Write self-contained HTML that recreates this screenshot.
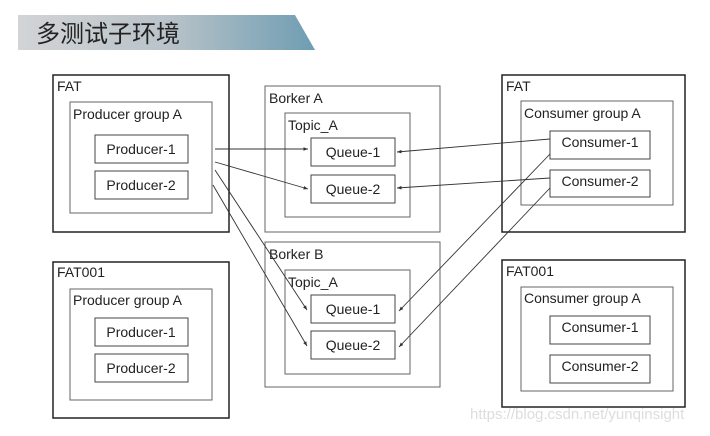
<!DOCTYPE html>
<html><head><meta charset="utf-8"><style>
body{margin:0;background:#fff;width:710px;height:431px;overflow:hidden;font-family:"Liberation Sans",sans-serif;}
</style></head><body>
<svg width="710" height="431" viewBox="0 0 710 431" xmlns="http://www.w3.org/2000/svg" font-family="Liberation Sans, sans-serif">
<defs>
<linearGradient id="g" x1="0" x2="1" y1="0" y2="0">
<stop offset="0" stop-color="#d2d4d6"/><stop offset="0.5" stop-color="#b9c3c9"/><stop offset="1" stop-color="#6f9db2"/>
</linearGradient>
<marker id="a" markerWidth="6" markerHeight="6" refX="5" refY="3" orient="auto"><path d="M0,1 L5,3 L0,5 z" fill="#333"/></marker>
</defs>
<polygon points="18,15 295,15 315,50 18,50" fill="url(#g)"/>
<text x="36" y="42" font-size="24" font-family="Noto Sans CJK SC, sans-serif" fill="#222">多测试子环境</text>
<g fill="none" stroke="#222">
<rect x="53" y="75" width="176" height="157" stroke-width="1.5"/>
<rect x="53" y="262" width="176" height="156" stroke-width="1.5"/>
<rect x="502" y="75" width="183" height="157" stroke-width="1.5"/>
<rect x="502" y="260" width="183" height="147" stroke-width="1.5"/>
</g>
<g fill="none" stroke="#666">
<rect x="70" y="102" width="142" height="111"/>
<rect x="70" y="289" width="142" height="111"/>
<rect x="521" y="101" width="152" height="104"/>
<rect x="521" y="287" width="152" height="104"/>
<rect x="265" y="86" width="175" height="146"/>
<rect x="285" y="113" width="125" height="104"/>
<rect x="265" y="242" width="175" height="145"/>
<rect x="285" y="270" width="125" height="104"/>
</g>
<g fill="none" stroke="#444">
<rect x="95" y="135" width="93" height="28"/><rect x="95" y="171" width="93" height="28"/>
<rect x="95" y="318" width="93" height="28"/><rect x="95" y="354" width="93" height="28"/>
<rect x="311" y="138" width="84" height="28"/><rect x="311" y="175" width="84" height="28"/>
<rect x="311" y="295" width="84" height="28"/><rect x="311" y="331" width="84" height="28"/>
<rect x="550" y="131" width="100" height="28"/><rect x="550" y="170" width="100" height="27"/>
<rect x="550" y="316" width="100" height="28"/><rect x="550" y="355" width="100" height="28"/>
</g>
<g font-size="14" fill="#222">
<text x="57" y="91">FAT</text><text x="57" y="277">FAT001</text>
<text x="506" y="91">FAT</text><text x="506" y="276">FAT001</text>
<text x="73" y="119">Producer group A</text><text x="73" y="305">Producer group A</text>
<text x="524" y="118">Consumer group A</text><text x="524" y="303">Consumer group A</text>
<text x="269" y="103">Borker A</text><text x="269" y="259">Borker B</text>
<text x="288" y="130">Topic_A</text><text x="288" y="287">Topic_A</text>
</g>
<g font-size="14" fill="#222" text-anchor="middle">
<text x="141" y="154">Producer-1</text><text x="141" y="190">Producer-2</text>
<text x="141" y="337">Producer-1</text><text x="141" y="373">Producer-2</text>
<text x="353" y="157">Queue-1</text><text x="353" y="194">Queue-2</text>
<text x="353" y="314">Queue-1</text><text x="353" y="350">Queue-2</text>
<text x="600" y="147">Consumer-1</text><text x="600" y="186">Consumer-2</text>
<text x="600" y="332">Consumer-1</text><text x="600" y="371">Consumer-2</text>
</g>
<g stroke="#333" stroke-width="0.9" fill="none" marker-end="url(#a)">
<line x1="215" y1="149" x2="308" y2="149"/>
<line x1="215" y1="162" x2="308" y2="189"/>
<line x1="215" y1="170" x2="307" y2="310"/>
<line x1="213" y1="185" x2="307" y2="346"/>
<line x1="550" y1="139" x2="397" y2="152"/>
<line x1="550" y1="178" x2="397" y2="188"/>
<line x1="550" y1="154" x2="399" y2="311"/>
<line x1="550" y1="188" x2="399" y2="347"/>
</g>
<text x="470" y="419" font-size="15" fill="#ddd">https://blog.csdn.net/yunqinsight</text>
</svg>
</body></html>
